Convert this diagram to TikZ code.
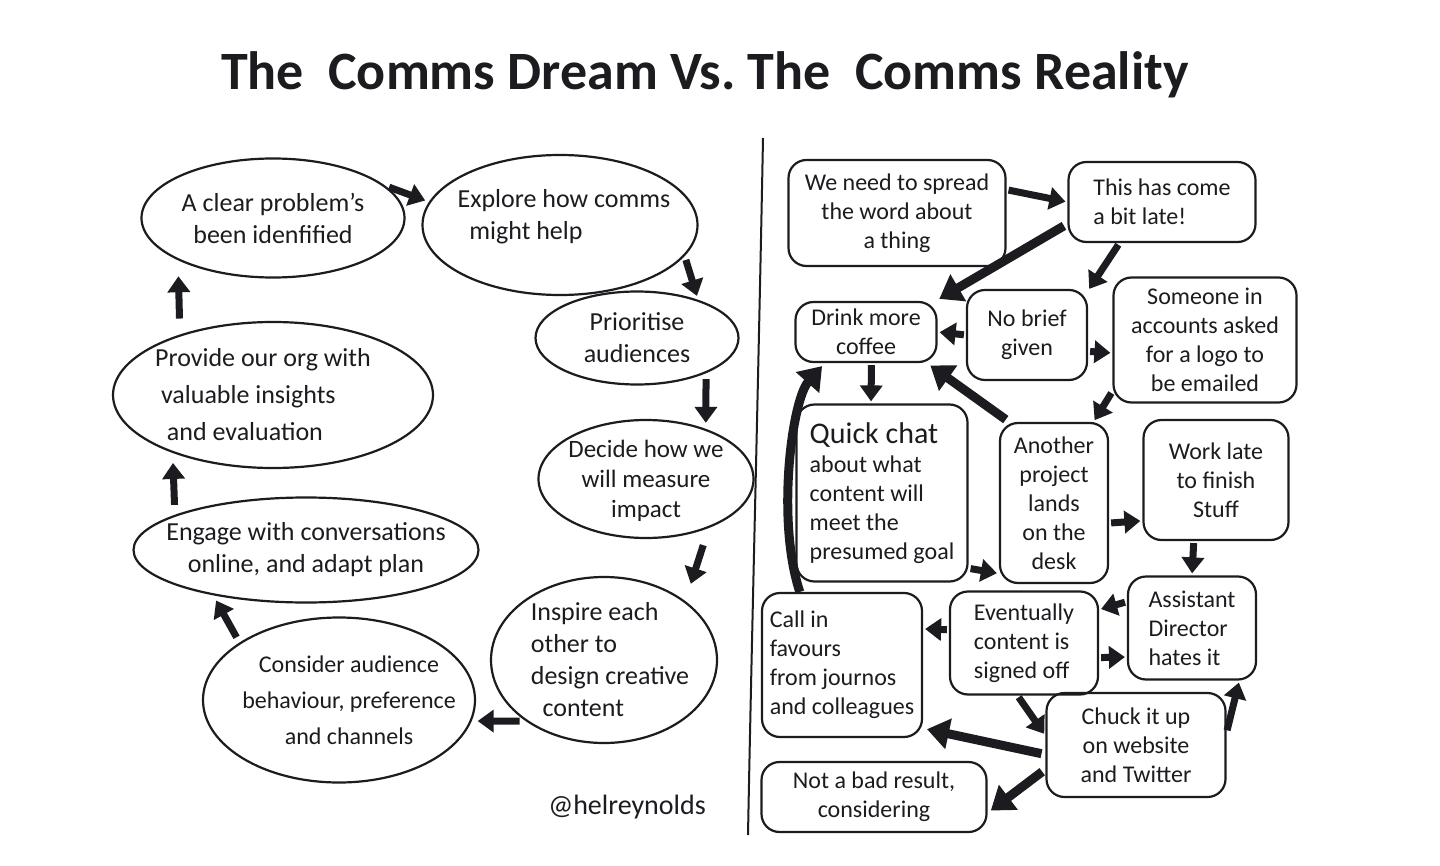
\documentclass[tikz,border=0pt]{standalone}
\usepackage{fontspec}
\setmainfont{Carlito}
\usetikzlibrary{arrows.meta,shapes.geometric}
\definecolor{ink}{RGB}{28,28,32}
\tikzset{
  dream/.style={draw=ink,line width=1.1pt,ellipse,inner sep=0pt},
  dreamtxt/.style={text=ink,align=center,font=\fontsize{13}{16}\selectfont},
  real/.style={draw=ink,line width=1.1pt,rounded corners=9pt,inner sep=0pt,text=ink,align=center,font=\fontsize{12}{14.5}\selectfont},
  blk/.style={draw=ink,line width=3.5pt,-{Triangle[length=8pt,width=11pt]}},
  bigblk/.style={draw=ink,line width=4.5pt,-{Triangle[length=11pt,width=15pt]}}
}
\begin{document}
\begin{tikzpicture}[x=0.5pt,y=-0.5pt,line join=round]
  % one unit = one pixel of the 1440x866 sheet, y downwards
  \useasboundingbox (0,0) rectangle (1440,866);
  \fill[white] (0,0) rectangle (1440,866);
  \node[text=ink,font=\fontsize{27}{31}\selectfont\bfseries] (title) at (705,75) {The\ \ Comms Dream Vs.\ The\ \ Comms Reality};
  \draw[ink,line width=1pt] (763,138) .. controls (758,400) and (752,620) .. (748,835);
  % dream: the tidy cycle
  \node[dream,minimum width=131.5pt,minimum height=59.5pt,label={[dreamtxt]center:{A clear problem's\\been idenfified}}] (clear) at (273,218) {};
  \node[dream,minimum width=137.5pt,minimum height=70pt,label={[dreamtxt,align=left,xshift=2pt,yshift=4pt]center:{Explore how comms\\\ \ might help}}] (explore) at (560,225) {};
  \node[dream,minimum width=101.5pt,minimum height=46.5pt,label={[dreamtxt]center:{Prioritise\\audiences}}] (prior) at (637,338) {};
  \node[dream,minimum width=107.5pt,minimum height=59pt,label={[dreamtxt,yshift=-1pt,font=\fontsize{12.5}{15}\selectfont]center:{Decide how we\\will measure\\impact}}] (decide) at (646,479) {};
  \node[dream,minimum width=113pt,minimum height=83pt,label={[dreamtxt,align=left,xshift=3pt]center:{Inspire each\\other to\\design creative\\\ \ content}}] (inspire) at (604,660) {};
  \node[dream,minimum width=136pt,minimum height=82.5pt,label={[dreamtxt,xshift=5pt,font=\fontsize{12}{18}\selectfont]center:{Consider audience\\behaviour, preference\\and channels}}] (consider) at (339,700) {};
  \node[dream,minimum width=172.5pt,minimum height=52.5pt,label={[dreamtxt]center:{Engage with conversations\\online, and adapt plan}}] (engage) at (306,550) {};
  \node[dream,minimum width=160pt,minimum height=73pt,label={[dreamtxt,align=left,xshift=-5pt,font=\fontsize{13}{18.5}\selectfont]center:{Provide our org with\\\ valuable insights\\\ \ and evaluation}}] (provide) at (273,395) {};
  \foreach \a/\b/\s in {clear.16/explore.170/2pt, explore.-14/prior.32/2pt, prior.-27/decide.40/3pt,
      decide.-38/inspire.36/9pt, inspire.218/consider.-9/3pt, consider.150/engage.206/3pt,
      engage.165/provide.210/5pt, provide.147/clear.204/8pt}
    \draw[blk,shorten <=\s,shorten >=\s] (\a) -- (\b);
  \node[text=ink,font=\fontsize{14}{16}\selectfont] (handle) at (627,807) {@helreynolds};
  % reality: everything at once
  \node[real,minimum width=108.5pt,minimum height=53pt] (spread) at (897,213) {We need to spread\\the word about\\a thing};
  \node[real,minimum width=93.5pt,minimum height=40pt,align=left] (late) at (1162,202) {This has come\\a bit late!};
  \node[real,minimum width=70.5pt,minimum height=30pt] (drink) at (866,332) {Drink more\\coffee};
  \node[real,minimum width=60pt,minimum height=45pt] (nobrief) at (1027,335) {No brief\\given};
  \node[real,minimum width=91.5pt,minimum height=62.5pt] (someone) at (1205,340) {Someone in\\accounts asked\\for a logo to\\be emailed};
  \node[real,minimum width=85.5pt,minimum height=88.5pt,align=left] (quick) at (882,493) {{\fontsize{15}{17}\selectfont Quick chat}\\about what\\content will\\meet the\\presumed goal};
  \node[real,minimum width=54pt,minimum height=80pt] (another) at (1054,503) {Another\\project\\lands\\on the\\desk};
  \node[real,minimum width=72.5pt,minimum height=60pt] (work) at (1216,480) {Work late\\to finish\\Stuff};
  \node[real,minimum width=64pt,minimum height=51.5pt,align=left] (assistant) at (1192,628) {Assistant\\Director\\hates it};
  \node[real,minimum width=74pt,minimum height=51.5pt,align=left] (eventually) at (1024,643) {Eventually\\content is\\signed off};
  \node[real,minimum width=80pt,minimum height=72pt,align=left] (call) at (842,665) {Call in\\favours\\from journos\\and colleagues};
  \node[real,minimum width=89.5pt,minimum height=52pt] (chuck) at (1136,745) {Chuck it up\\on website\\and Twitter};
  \node[real,minimum width=112.5pt,minimum height=35pt] (notbad) at (874,797) {Not a bad result,\\considering};
  % short hops
  \foreach \a/\b in {spread.12/late.west, late.224/nobrief.36, nobrief.west/drink.east,
      nobrief.-15/someone.188, someone.209/another.64, drink.-80/quick.97,
      quick.-41/another.232, another.-20/work.209, work.250/assistant.north,
      assistant.158/eventually.24, eventually.-11/assistant.204, eventually.170/call.24,
      eventually.-97/chuck.174, chuck.8/assistant.-48}
    \draw[blk,shorten <=1pt,shorten >=1pt] (\a) -- (\b);
  % long heavy ones
  \foreach \a/\b in {late.193/drink.24, another.119/drink.-27, chuck.186/call.-38, chuck.195/notbad.-8}
    \draw[bigblk,shorten <=2pt,shorten >=2pt] (\a) -- (\b);
  \draw[bigblk,shorten >=2pt] (call.120) .. controls (776,520) and (792,400) .. (drink.217);
\end{tikzpicture}
\end{document}
